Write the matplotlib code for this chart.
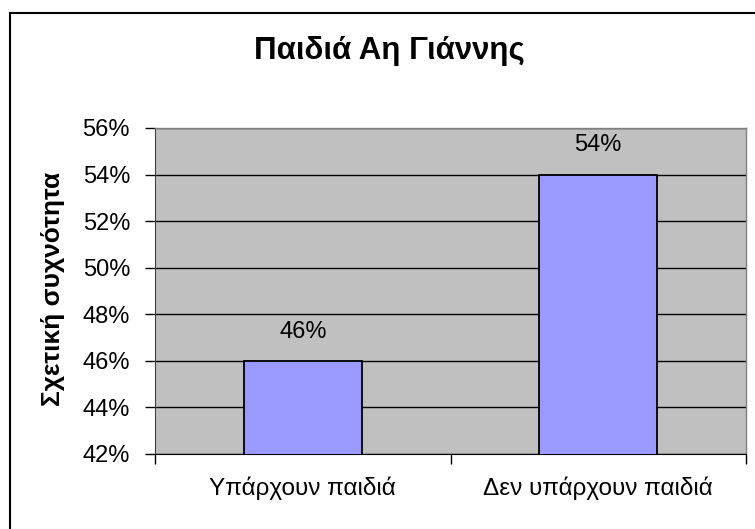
import matplotlib
matplotlib.use("Agg")
import matplotlib.pyplot as plt
from matplotlib.ticker import FuncFormatter, FixedLocator
from matplotlib.patches import Rectangle

# data
categories = ["Υπάρχουν παιδιά", "Δεν υπάρχουν παιδιά"]
values = [0.46, 0.54]
y_ticks = [0.42, 0.44, 0.46, 0.48, 0.50, 0.52, 0.54, 0.56]

plt.rcParams['font.family'] = ['Liberation Sans', 'DejaVu Sans']

W, H = 755, 529
fig = plt.figure(figsize=(W / 100, H / 100), dpi=100)
fig.patch.set_facecolor('white')

# outer chart border (cut off at right/bottom like the reference)
fig.patches.append(Rectangle((10 / W, -0.1), 1.2, 1 - 13 / H + 0.1, transform=fig.transFigure,
                             fill=False, edgecolor='black', linewidth=1.5))

ax = fig.add_axes([155 / W, 1 - 454 / H, (746 - 155) / W, (454 - 128) / H])
ax.set_facecolor('#C0C0C0')

x = list(range(len(categories)))
ax.bar(x, values, width=0.4, bottom=0, color='#9999FF', edgecolor='black', linewidth=1.3, zorder=3)

ax.set_xlim(-0.5, len(categories) - 0.5)
ax.set_ylim(y_ticks[0], y_ticks[-1])
ax.set_yticks(y_ticks)
ax.yaxis.set_major_formatter(FuncFormatter(lambda v, p: f"{v * 100:.0f}%"))
ax.grid(axis='y', color='black', linewidth=1, zorder=1)
ax.set_axisbelow(True)

ax.set_xticks(x)
ax.set_xticklabels(categories, fontsize=17.5)
ax.xaxis.set_minor_locator(FixedLocator([i - 0.5 for i in range(len(categories) + 1)]))
ax.tick_params(axis='x', which='major', length=0, pad=16)
ax.tick_params(axis='x', which='minor', length=7, width=1, color='black', direction='out')
ax.tick_params(axis='y', which='major', length=7, width=1, color='black', direction='out',
               labelsize=17, pad=11)

for side in ['top', 'right']:
    ax.spines[side].set_color('#808080')
    ax.spines[side].set_linewidth(1)
ax.spines['left'].set_color('#404040')
ax.spines['bottom'].set_color('black')

for xi, v in zip(x, values):
    ax.annotate(f"{v * 100:.0f}%", (xi, v), xytext=(0, 21), textcoords='offset points',
                ha='center', va='center', fontsize=17)

fig.text(389 / W, 1 - 51 / H, "Παιδιά Αη Γιάννης", ha='center', va='center',
         fontsize=22.5, fontweight='bold')
fig.text(53 / W, 1 - 289 / H, "Σχετική συχνότητα", ha='center', va='center',
         rotation=90, fontsize=19, fontweight='bold')

fig.savefig("out.png", dpi=100)
